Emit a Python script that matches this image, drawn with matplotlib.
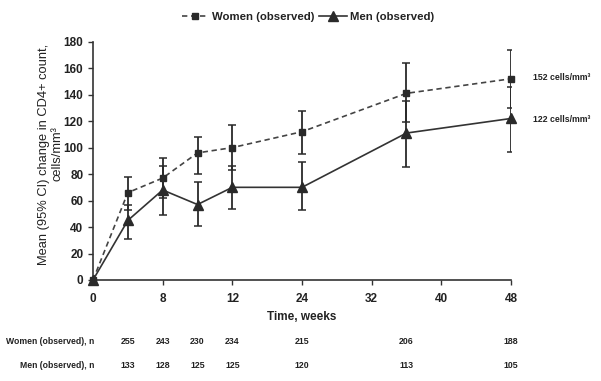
import numpy as np
import matplotlib
matplotlib.use("Agg")
import matplotlib.pyplot as plt
from matplotlib.transforms import blended_transform_factory
from matplotlib.lines import Line2D

plt.rcParams['font.family'] = ['Liberation Sans', 'DejaVu Sans']

# ---- data ----
tick_weeks = [0, 8, 12, 24, 32, 40, 48]
tick_labels = ["0", "8", "12", "24", "32", "40", "48"]

weeks = [0, 4, 8, 10, 12, 24, 36, 48]
women_mean = [0, 66, 77, 96, 100, 112, 141, 152]
women_low = [0, 53, 62, 80, 83, 95, 119, 130]
women_high = [0, 78, 92, 108, 117, 128, 164, 174]
men_mean = [0, 45, 68, 57, 70, 70, 111, 122]
men_low = [0, 31, 49, 41, 54, 53, 85, 97]
men_high = [0, 57, 86, 74, 86, 89, 135, 146]

n_weeks = [4, 8, 10, 12, 24, 36, 48]
women_n = [255, 243, 230, 234, 215, 206, 188]
men_n = [133, 128, 125, 125, 120, 113, 105]

end_labels = ["152 cells/mm³", "122 cells/mm³"]

# ---- mapping weeks to axis positions (ticks evenly spaced) ----
tick_pos = np.arange(len(tick_weeks))
def wpos(w):
    return np.interp(w, tick_weeks, tick_pos)

x = wpos(weeks)
xn = wpos(n_weeks)

W, H = 601, 381
fig = plt.figure(figsize=(W / 100, H / 100), dpi=100)
ax = fig.add_axes([93 / W, 1 - 280 / H, (511 - 93) / W, (280 - 41.7) / H])

col = '#2a2a2a'
tcol = '#222222'
wm = np.array(women_mean); wl = np.array(women_low); wh = np.array(women_high)
mm = np.array(men_mean); ml = np.array(men_low); mh = np.array(men_high)

# error bars (skip baseline)
ax.errorbar(x[1:], wm[1:], yerr=[wm[1:] - wl[1:], wh[1:] - wm[1:]], fmt='none',
            ecolor=col, elinewidth=1.3, capsize=2.8, capthick=1.1, zorder=2)
ax.errorbar(x[1:], mm[1:], yerr=[mm[1:] - ml[1:], mh[1:] - mm[1:]], fmt='none',
            ecolor=col, elinewidth=1.3, capsize=2.8, capthick=1.1, zorder=2)

ax.plot(x, wm, linestyle=(0, (3.2, 2.2)), color='#444444', lw=1.2, marker='s',
        markersize=5, markerfacecolor=col, markeredgecolor=col, clip_on=False, zorder=3)
ax.plot(x, mm, linestyle='-', color='#333333', lw=1.2, marker='^',
        markersize=6.5, markerfacecolor=col, markeredgecolor=col, clip_on=False, zorder=3)

ax.set_xlim(0, tick_pos[-1])
ax.set_ylim(0, 180)
ax.set_yticks(np.arange(0, 181, 20))
ax.set_xticks(tick_pos)
ax.set_xticklabels(tick_labels)
for s in ['top', 'right']:
    ax.spines[s].set_visible(False)
for s in ['left', 'bottom']:
    ax.spines[s].set_color('#333333')
    ax.spines[s].set_linewidth(1.2)
ax.tick_params(axis='both', direction='out', length=3.5, width=1, color='#333333',
               labelsize=8.5, labelcolor=tcol)
ax.tick_params(axis='x', pad=6)
for lab in ax.get_xticklabels() + ax.get_yticklabels():
    lab.set_fontweight('bold')

fig.text(302 / W, 1 - 317 / H, "Time, weeks", ha='center', va='center',
         fontsize=8.5, fontweight='bold', color=tcol)

fig.text(51 / W, 1 - 154 / H, "Mean (95% CI) change in CD4+ count,\ncells/mm³",
         rotation=90, ha='center', va='center', multialignment='center',
         fontsize=9.3, color=tcol, linespacing=1.15)

# end annotations
fig.text(533 / W, 1 - 78 / H, end_labels[0], fontsize=6.3,
         fontweight='bold', color=tcol, va='center', ha='left')
fig.text(533 / W, 1 - 120 / H, end_labels[1], fontsize=6.3,
         fontweight='bold', color=tcol, va='center', ha='left')

# legend
handles = [
    Line2D([], [], linestyle=(0, (3.2, 2.2)), color='#444444', lw=1.2, marker='s',
           markersize=5, markerfacecolor=col, markeredgecolor=col),
    Line2D([], [], linestyle='-', color='#333333', lw=1.2, marker='^',
           markersize=6.5, markerfacecolor=col, markeredgecolor=col),
]
leg = fig.legend(handles, ["Women (observed)", "Men (observed)"], loc='center',
                 bbox_to_anchor=(308 / W, 1 - 17 / H), ncol=2, frameon=False,
                 fontsize=8.2, handlelength=2.4, handletextpad=0.3, columnspacing=0.4,
                 borderaxespad=0)
for t in leg.get_texts():
    t.set_fontweight('bold'); t.set_color(tcol)

# n at risk table
tr = blended_transform_factory(ax.transData, fig.transFigure)
y_w = 1 - 341 / H
y_m = 1 - 366 / H
fig.text(94 / W, y_w, "Women (observed), n", ha='right', va='center', fontsize=6.2,
         fontweight='bold', color=tcol)
fig.text(94 / W, y_m, "Men (observed), n", ha='right', va='center', fontsize=6.2,
         fontweight='bold', color=tcol)
for xi, a, b in zip(xn, women_n, men_n):
    ax.text(xi, y_w, str(a), transform=tr, ha='center', va='center', fontsize=6.3,
            fontweight='bold', color=tcol)
    ax.text(xi, y_m, str(b), transform=tr, ha='center', va='center', fontsize=6.3,
            fontweight='bold', color=tcol)

fig.savefig("out.png", dpi=100)
